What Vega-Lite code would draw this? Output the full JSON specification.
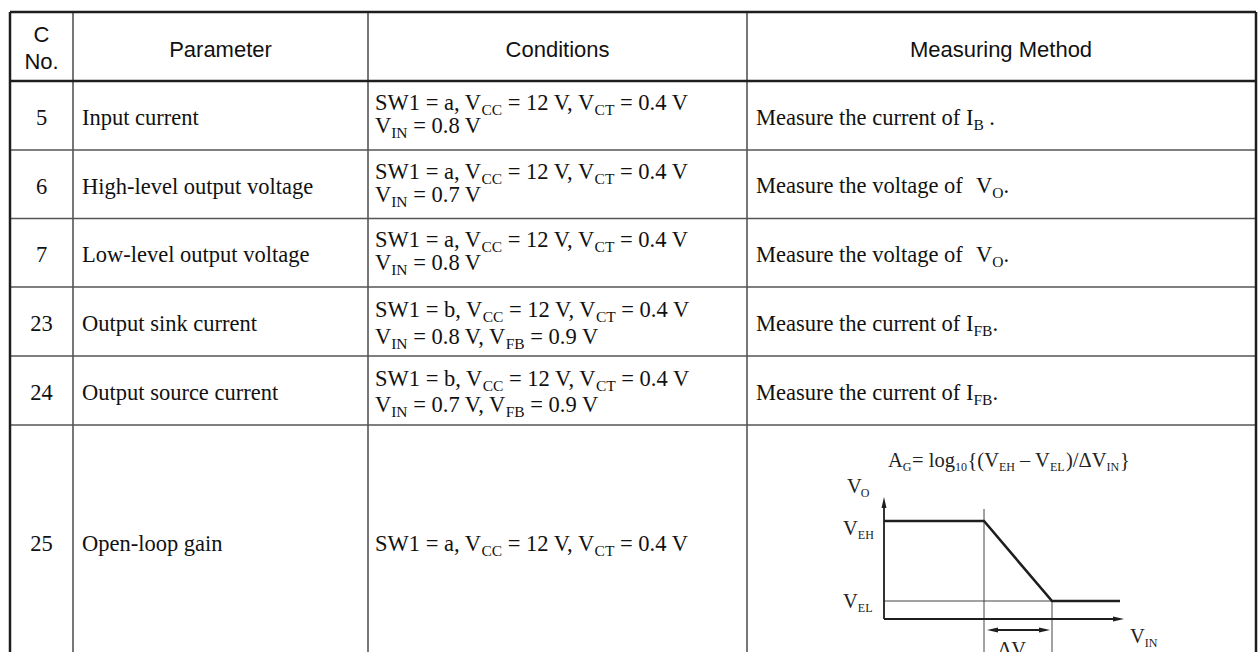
{
  "$schema": "https://vega.github.io/schema/vega-lite/v6.json",
  "width": 1258,
  "height": 652,
  "padding": 0,
  "autosize": {"type": "fit", "contains": "padding"},
  "background": "white",
  "config": {"view": {"stroke": null}},
  "datasets": {
    "lines": [
      {"x": 10, "y": 12, "x2": 1256, "y2": 12, "k": "heavy"},
      {"x": 10, "y": 81, "x2": 1256, "y2": 81, "k": "heavy"},
      {"x": 10, "y": 12, "x2": 10, "y2": 662, "k": "heavy"},
      {"x": 1256, "y": 12, "x2": 1256, "y2": 662, "k": "heavy"},
      {"x": 10, "y": 150, "x2": 1256, "y2": 150, "k": "grid"},
      {"x": 10, "y": 218.5, "x2": 1256, "y2": 218.5, "k": "grid"},
      {"x": 10, "y": 287, "x2": 1256, "y2": 287, "k": "grid"},
      {"x": 10, "y": 356, "x2": 1256, "y2": 356, "k": "grid"},
      {"x": 10, "y": 425, "x2": 1256, "y2": 425, "k": "grid"},
      {"x": 73, "y": 12, "x2": 73, "y2": 662, "k": "grid"},
      {"x": 368, "y": 12, "x2": 368, "y2": 662, "k": "grid"},
      {"x": 747, "y": 12, "x2": 747, "y2": 662, "k": "grid"}
    ],
    "texts": [
      {"k": "head", "t": "C", "x": 41.5, "y": 42},
      {"k": "head", "t": "No.", "x": 41.5, "y": 69},
      {"k": "head", "t": "Parameter", "x": 220.5, "y": 56.5},
      {"k": "head", "t": "Conditions", "x": 557.5, "y": 56.5},
      {"k": "head", "t": "Measuring Method", "x": 1001, "y": 56.5},

      {"k": "num", "t": "5", "x": 41.5, "y": 124.5},
      {"k": "num", "t": "6", "x": 41.5, "y": 193.5},
      {"k": "num", "t": "7", "x": 41.5, "y": 262},
      {"k": "num", "t": "23", "x": 41.5, "y": 330.5},
      {"k": "num", "t": "24", "x": 41.5, "y": 399.5},
      {"k": "num", "t": "25", "x": 41.5, "y": 551},

      {"k": "cell", "t": "Input current", "x": 82, "y": 124.5},
      {"k": "cell", "t": "High-level output voltage", "x": 82, "y": 193.5},
      {"k": "cell", "t": "Low-level output voltage", "x": 82, "y": 262},
      {"k": "cell", "t": "Output sink current", "x": 82, "y": 330.5},
      {"k": "cell", "t": "Output source current", "x": 82, "y": 399.5},
      {"k": "cell", "t": "Open-loop gain", "x": 82, "y": 551},

      {"k": "cell", "t": "SW1 = a, V", "x": 375, "y": 110},
      {"k": "sub", "t": "CC", "x": 481.4, "y": 110},
      {"k": "cell", "t": "= 12 V, V", "x": 507.7, "y": 110},
      {"k": "sub", "t": "CT", "x": 594.6, "y": 110},
      {"k": "cell", "t": "= 0.4 V", "x": 620, "y": 110},
      {"k": "cell", "t": "V", "x": 375, "y": 133},
      {"k": "sub", "t": "IN", "x": 391.2, "y": 133},
      {"k": "cell", "t": "= 0.8 V", "x": 413.2, "y": 133},
      {"k": "cell", "t": "Measure the current of I", "x": 756, "y": 124.5},
      {"k": "sub", "t": "B", "x": 973.4, "y": 124.5},
      {"k": "cell", "t": ".", "x": 989.3, "y": 124.5},

      {"k": "cell", "t": "SW1 = a, V", "x": 375, "y": 178.8},
      {"k": "sub", "t": "CC", "x": 481.4, "y": 178.8},
      {"k": "cell", "t": "= 12 V, V", "x": 507.7, "y": 178.8},
      {"k": "sub", "t": "CT", "x": 594.6, "y": 178.8},
      {"k": "cell", "t": "= 0.4 V", "x": 620, "y": 178.8},
      {"k": "cell", "t": "V", "x": 375, "y": 201.8},
      {"k": "sub", "t": "IN", "x": 391.2, "y": 201.8},
      {"k": "cell", "t": "= 0.7 V", "x": 413.2, "y": 201.8},
      {"k": "cell", "t": "Measure the voltage of", "x": 756, "y": 193.3},
      {"k": "cell", "t": "V", "x": 976, "y": 193.3},
      {"k": "sub", "t": "O", "x": 992.2, "y": 193.3},
      {"k": "cell", "t": ".", "x": 1003.4, "y": 193.3},

      {"k": "cell", "t": "SW1 = a, V", "x": 375, "y": 247.3},
      {"k": "sub", "t": "CC", "x": 481.4, "y": 247.3},
      {"k": "cell", "t": "= 12 V, V", "x": 507.7, "y": 247.3},
      {"k": "sub", "t": "CT", "x": 594.6, "y": 247.3},
      {"k": "cell", "t": "= 0.4 V", "x": 620, "y": 247.3},
      {"k": "cell", "t": "V", "x": 375, "y": 270.3},
      {"k": "sub", "t": "IN", "x": 391.2, "y": 270.3},
      {"k": "cell", "t": "= 0.8 V", "x": 413.2, "y": 270.3},
      {"k": "cell", "t": "Measure the voltage of", "x": 756, "y": 261.8},
      {"k": "cell", "t": "V", "x": 976, "y": 261.8},
      {"k": "sub", "t": "O", "x": 992.2, "y": 261.8},
      {"k": "cell", "t": ".", "x": 1003.4, "y": 261.8},

      {"k": "cell", "t": "SW1 = b, V", "x": 375, "y": 317},
      {"k": "sub", "t": "CC", "x": 482.7, "y": 317},
      {"k": "cell", "t": "= 12 V, V", "x": 509.0, "y": 317},
      {"k": "sub", "t": "CT", "x": 595.9, "y": 317},
      {"k": "cell", "t": "= 0.4 V", "x": 621.3, "y": 317},
      {"k": "cell", "t": "V", "x": 375, "y": 343.5},
      {"k": "sub", "t": "IN", "x": 391.2, "y": 343.5},
      {"k": "cell", "t": "= 0.8 V, V", "x": 413.2, "y": 343.5},
      {"k": "sub", "t": "FB", "x": 505.7, "y": 343.5},
      {"k": "cell", "t": "= 0.9 V", "x": 530.3, "y": 343.5},
      {"k": "cell", "t": "Measure the current of I", "x": 756, "y": 330.5},
      {"k": "sub", "t": "FB", "x": 973.4, "y": 330.5},
      {"k": "cell", "t": ".", "x": 992.4, "y": 330.5},

      {"k": "cell", "t": "SW1 = b, V", "x": 375, "y": 385.5},
      {"k": "sub", "t": "CC", "x": 482.7, "y": 385.5},
      {"k": "cell", "t": "= 12 V, V", "x": 509.0, "y": 385.5},
      {"k": "sub", "t": "CT", "x": 595.9, "y": 385.5},
      {"k": "cell", "t": "= 0.4 V", "x": 621.3, "y": 385.5},
      {"k": "cell", "t": "V", "x": 375, "y": 412},
      {"k": "sub", "t": "IN", "x": 391.2, "y": 412},
      {"k": "cell", "t": "= 0.7 V, V", "x": 413.2, "y": 412},
      {"k": "sub", "t": "FB", "x": 505.7, "y": 412},
      {"k": "cell", "t": "= 0.9 V", "x": 530.3, "y": 412},
      {"k": "cell", "t": "Measure the current of I", "x": 756, "y": 399.5},
      {"k": "sub", "t": "FB", "x": 973.4, "y": 399.5},
      {"k": "cell", "t": ".", "x": 992.4, "y": 399.5},

      {"k": "cell", "t": "SW1 = a, V", "x": 375, "y": 551},
      {"k": "sub", "t": "CC", "x": 481.4, "y": 551},
      {"k": "cell", "t": "= 12 V, V", "x": 507.7, "y": 551},
      {"k": "sub", "t": "CT", "x": 594.6, "y": 551},
      {"k": "cell", "t": "= 0.4 V", "x": 620, "y": 551},

      {"k": "fig", "t": "A", "x": 888, "y": 467},
      {"k": "figsub", "t": "G", "x": 902.8, "y": 467},
      {"k": "fig", "t": "= log", "x": 912, "y": 467},
      {"k": "figsub", "t": "10", "x": 955, "y": 467},
      {"k": "fig", "t": "{(V", "x": 967.5, "y": 467},
      {"k": "figsub", "t": "EH", "x": 999, "y": 467},
      {"k": "fig", "t": "– V", "x": 1020, "y": 467},
      {"k": "figsub", "t": "EL", "x": 1050, "y": 467},
      {"k": "fig", "t": ")/ΔV", "x": 1066, "y": 467},
      {"k": "figsub", "t": "IN", "x": 1106.5, "y": 467},
      {"k": "fig", "t": "}", "x": 1120, "y": 467},

      {"k": "fig", "t": "V", "x": 847, "y": 493},
      {"k": "figsub", "t": "O", "x": 860.8, "y": 493},
      {"k": "fig", "t": "V", "x": 843, "y": 535},
      {"k": "figsub", "t": "EH", "x": 857.8, "y": 535},
      {"k": "fig", "t": "V", "x": 843, "y": 608},
      {"k": "figsub", "t": "EL", "x": 857.8, "y": 608},
      {"k": "fig", "t": "V", "x": 1130, "y": 643},
      {"k": "figsub", "t": "IN", "x": 1144.8, "y": 643},
      {"k": "fig", "t": "ΔV", "x": 998, "y": 656},
      {"k": "figsub", "t": "IN", "x": 1025.5, "y": 656}
    ],
    "curve": [
      {"x": 884, "y": 521},
      {"x": 984, "y": 521},
      {"x": 1052, "y": 601},
      {"x": 1120, "y": 601}
    ],
    "figlines": [
      {"x": 884, "y": 619, "x2": 884, "y2": 506, "k": "axis"},
      {"x": 884, "y": 619, "x2": 1114, "y2": 619, "k": "axis"},
      {"x": 884, "y": 601, "x2": 1052, "y2": 601, "k": "thin"},
      {"x": 984, "y": 509, "x2": 984, "y2": 662, "k": "thin"},
      {"x": 1052, "y": 601, "x2": 1052, "y2": 662, "k": "thin"},
      {"x": 992, "y": 630, "x2": 1045, "y2": 630, "k": "axis"}
    ],
    "heads": [
      {"x": 884, "y": 502.5, "d": "up"},
      {"x": 1118.5, "y": 619, "d": "right"},
      {"x": 992.5, "y": 630, "d": "left"},
      {"x": 1044.5, "y": 630, "d": "right"}
    ]
  },
  "encoding": {
    "x": {"field": "x", "type": "quantitative", "axis": null, "scale": {"domain": [0, 1258], "nice": false, "zero": false}},
    "y": {"field": "y", "type": "quantitative", "axis": null, "scale": {"domain": [0, 652], "reverse": true, "nice": false, "zero": false}}
  },
  "layer": [
    {
      "data": {"name": "lines"},
      "transform": [{"filter": "datum.k === 'grid'"}],
      "mark": {"type": "rule", "color": "#555555", "strokeWidth": 1.6, "clip": true},
      "encoding": {"x2": {"field": "x2"}, "y2": {"field": "y2"}}
    },
    {
      "data": {"name": "lines"},
      "transform": [{"filter": "datum.k === 'heavy'"}],
      "mark": {"type": "rule", "color": "#1e1e1e", "strokeWidth": 2.5, "clip": true},
      "encoding": {"x2": {"field": "x2"}, "y2": {"field": "y2"}}
    },
    {
      "data": {"name": "texts"},
      "transform": [{"filter": "datum.k === 'head'"}],
      "mark": {"type": "text", "font": "Liberation Sans", "fontSize": 22, "align": "center", "baseline": "alphabetic", "color": "#111111", "clip": true},
      "encoding": {"text": {"field": "t"}}
    },
    {
      "data": {"name": "texts"},
      "transform": [{"filter": "datum.k === 'num'"}],
      "mark": {"type": "text", "font": "Liberation Serif", "fontSize": 22.5, "align": "center", "baseline": "alphabetic", "color": "#111111", "clip": true},
      "encoding": {"text": {"field": "t"}}
    },
    {
      "data": {"name": "texts"},
      "transform": [{"filter": "datum.k === 'cell'"}],
      "mark": {"type": "text", "font": "Liberation Serif", "fontSize": 22.5, "align": "left", "baseline": "alphabetic", "color": "#111111", "clip": true},
      "encoding": {"text": {"field": "t"}}
    },
    {
      "data": {"name": "texts"},
      "transform": [{"filter": "datum.k === 'sub'"}],
      "mark": {"type": "text", "font": "Liberation Serif", "fontSize": 15.5, "align": "left", "baseline": "alphabetic", "dy": 5, "color": "#111111", "clip": true},
      "encoding": {"text": {"field": "t"}}
    },
    {
      "data": {"name": "texts"},
      "transform": [{"filter": "datum.k === 'fig'"}],
      "mark": {"type": "text", "font": "Liberation Serif", "fontSize": 20.5, "align": "left", "baseline": "alphabetic", "color": "#222222", "clip": true},
      "encoding": {"text": {"field": "t"}}
    },
    {
      "data": {"name": "texts"},
      "transform": [{"filter": "datum.k === 'figsub'"}],
      "mark": {"type": "text", "font": "Liberation Serif", "fontSize": 12, "align": "left", "baseline": "alphabetic", "dy": 4, "color": "#222222", "clip": true},
      "encoding": {"text": {"field": "t"}}
    },
    {
      "data": {"name": "figlines"},
      "transform": [{"filter": "datum.k === 'thin'"}],
      "mark": {"type": "rule", "color": "#444444", "strokeWidth": 1, "clip": true},
      "encoding": {"x2": {"field": "x2"}, "y2": {"field": "y2"}}
    },
    {
      "data": {"name": "figlines"},
      "transform": [{"filter": "datum.k === 'axis'"}],
      "mark": {"type": "rule", "color": "#1e1e1e", "strokeWidth": 1.8, "clip": true},
      "encoding": {"x2": {"field": "x2"}, "y2": {"field": "y2"}}
    },
    {
      "data": {"name": "curve"},
      "mark": {"type": "line", "color": "#1e1e1e", "strokeWidth": 2.6, "clip": true},
      "encoding": {}
    },
    {
      "data": {"name": "heads"},
      "mark": {"type": "point", "filled": true, "color": "#1e1e1e", "opacity": 1, "size": 121, "strokeWidth": 0, "clip": true},
      "encoding": {
        "shape": {"field": "d", "type": "nominal", "legend": null, "scale": {"domain": ["up", "right", "left"], "range": ["M 0 -1 L 0.45 1 L -0.45 1 Z", "M 1 0 L -1 0.45 L -1 -0.45 Z", "M -1 0 L 1 0.45 L 1 -0.45 Z"]}}
      }
    }
  ]
}
